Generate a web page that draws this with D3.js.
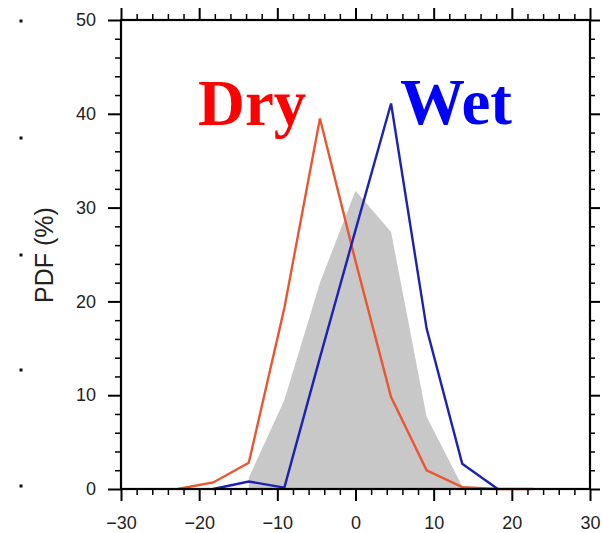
<!DOCTYPE html>
<html>
<head>
<meta charset="utf-8">
<script src="https://cdn.jsdelivr.net/npm/d3@7"></script>
<style>
  html, body { margin: 0; padding: 0; background: #fff; }
  svg { display: block; }
</style>
</head>
<body>
<svg id="chart" width="602" height="533"></svg>
<script>
// Bin centres of the anomaly distribution
const binCenters = [-22.75, -18.2, -13.65, -9.1, -4.55, 0, 4.55, 9.1, 13.65, 18.2, 22.75];
// PDF (%) per bin; null = not drawn
const dryPdf  = [0, 0.7, 2.8, 19.3, 39.5, 24.3, 9.8, 2.0, 0.2, 0, 0];
const wetPdf  = [null, 0, 0.8, 0.15, 14.0, 27.6, 41.1, 17.1, 2.7, 0, null];
const allPdf  = [null, null, 1.2, 9.5, 22.0, 31.8, 27.4, 7.7, 0.3, 0, null];

const xTicks = [-30, -20, -10, 0, 10, 20, 30];
const yTicks = [0, 10, 20, 30, 40, 50];
const minorStep = 2;

const svg = d3.select("#chart");
const plotL = 121, plotR = 590, plotT = 20, plotB = 489;

const x = d3.scaleLinear().domain([-30, 30]).range([plotL, plotR]);
const y = d3.scaleLinear().domain([0, 50]).range([plotB, plotT]);

const xMinor = d3.range(-30, 30.01, minorStep).filter(v => v % 10 !== 0);
const yMinor = d3.range(0, 50.01, minorStep).filter(v => v % 10 !== 0);

// shaded reference distribution
const pts = (arr) => binCenters.map((c, i) => ({ x: c, y: arr[i] }));

svg.append("path")
  .datum(pts(allPdf))
  .attr("fill", "#c8c8c8")
  .attr("d", d3.area()
    .defined(d => d.y !== null)
    .x(d => x(d.x)).y0(y(0)).y1(d => y(d.y)));

// dry and wet composites
const line = d3.line().defined(d => d.y !== null).x(d => x(d.x)).y(d => y(d.y));

svg.append("path").datum(pts(dryPdf))
  .attr("fill", "none").attr("stroke", "#ea5630").attr("stroke-width", 2.4)
  .attr("stroke-linejoin", "miter").attr("d", line);

svg.append("path").datum(pts(wetPdf))
  .attr("fill", "none").attr("stroke", "#1c22b2").attr("stroke-width", 2.4)
  .attr("stroke-linejoin", "miter").attr("d", line);

// axes: all ticks point outward
function styleAxis(g, major) {
  g.select(".domain").remove();
  g.selectAll("line").attr("stroke", "#000").attr("stroke-width", major ? 2 : 1.5);
}

// bottom
svg.append("g").attr("transform", `translate(0,${plotB})`)
  .call(d3.axisBottom(x).tickValues(xTicks).tickSize(12).tickPadding(15)
    .tickFormat(d3.format("d")))
  .call(g => styleAxis(g, true))
  .call(g => g.selectAll("text").attr("font-family", "Liberation Sans, Arial, sans-serif")
    .attr("font-size", 18).attr("fill", "#222"));
svg.append("g").attr("transform", `translate(0,${plotB})`)
  .call(d3.axisBottom(x).tickValues(xMinor).tickSize(6).tickFormat(""))
  .call(g => styleAxis(g, false));

// top
svg.append("g").attr("transform", `translate(0,${plotT})`)
  .call(d3.axisTop(x).tickValues(xTicks).tickSize(12).tickFormat(""))
  .call(g => styleAxis(g, true));
svg.append("g").attr("transform", `translate(0,${plotT})`)
  .call(d3.axisTop(x).tickValues(xMinor).tickSize(6).tickFormat(""))
  .call(g => styleAxis(g, false));

// left
svg.append("g").attr("transform", `translate(${plotL},0)`)
  .call(d3.axisLeft(y).tickValues(yTicks).tickSize(13).tickPadding(12)
    .tickFormat(d3.format("d")))
  .call(g => styleAxis(g, true))
  .call(g => g.selectAll("text").attr("font-family", "Liberation Sans, Arial, sans-serif")
    .attr("font-size", 18).attr("fill", "#222"));
svg.append("g").attr("transform", `translate(${plotL},0)`)
  .call(d3.axisLeft(y).tickValues(yMinor).tickSize(6).tickFormat(""))
  .call(g => styleAxis(g, false));

// right
svg.append("g").attr("transform", `translate(${plotR},0)`)
  .call(d3.axisRight(y).tickValues(yTicks).tickSize(10).tickFormat(""))
  .call(g => styleAxis(g, true));
svg.append("g").attr("transform", `translate(${plotR},0)`)
  .call(d3.axisRight(y).tickValues(yMinor).tickSize(5).tickFormat(""))
  .call(g => styleAxis(g, false));

// frame
svg.append("rect")
  .attr("x", plotL).attr("y", plotT)
  .attr("width", plotR - plotL).attr("height", plotB - plotT)
  .attr("fill", "none").attr("stroke", "#000").attr("stroke-width", 2.2);

// y-axis title
svg.append("text")
  .attr("transform", "translate(53,255) rotate(-90)")
  .attr("text-anchor", "middle")
  .attr("font-family", "Liberation Sans, Arial, sans-serif")
  .attr("font-size", 25).attr("fill", "#222")
  .text("PDF (%)");

// series labels
svg.append("text").attr("x", 198).attr("y", 125)
  .attr("font-family", "Liberation Serif, Times New Roman, serif")
  .attr("font-weight", "bold").attr("font-size", 65).attr("fill", "#ff0000")
  .text("Dry");
svg.append("text").attr("x", 400).attr("y", 124)
  .attr("font-family", "Liberation Serif, Times New Roman, serif")
  .attr("font-weight", "bold").attr("font-size", 65).attr("fill", "#0000ff")
  .text("Wet");

// tick marks of the neighbouring panel's right axis at the left edge
const edgeDots = [21, 138, 255, 370, 486];
svg.selectAll("rect.edge").data(edgeDots).enter().append("rect")
  .attr("class", "edge")
  .attr("x", 19.5).attr("y", d => d - 1.5).attr("width", 3).attr("height", 3)
  .attr("fill", "#111");
</script>
</body>
</html>
